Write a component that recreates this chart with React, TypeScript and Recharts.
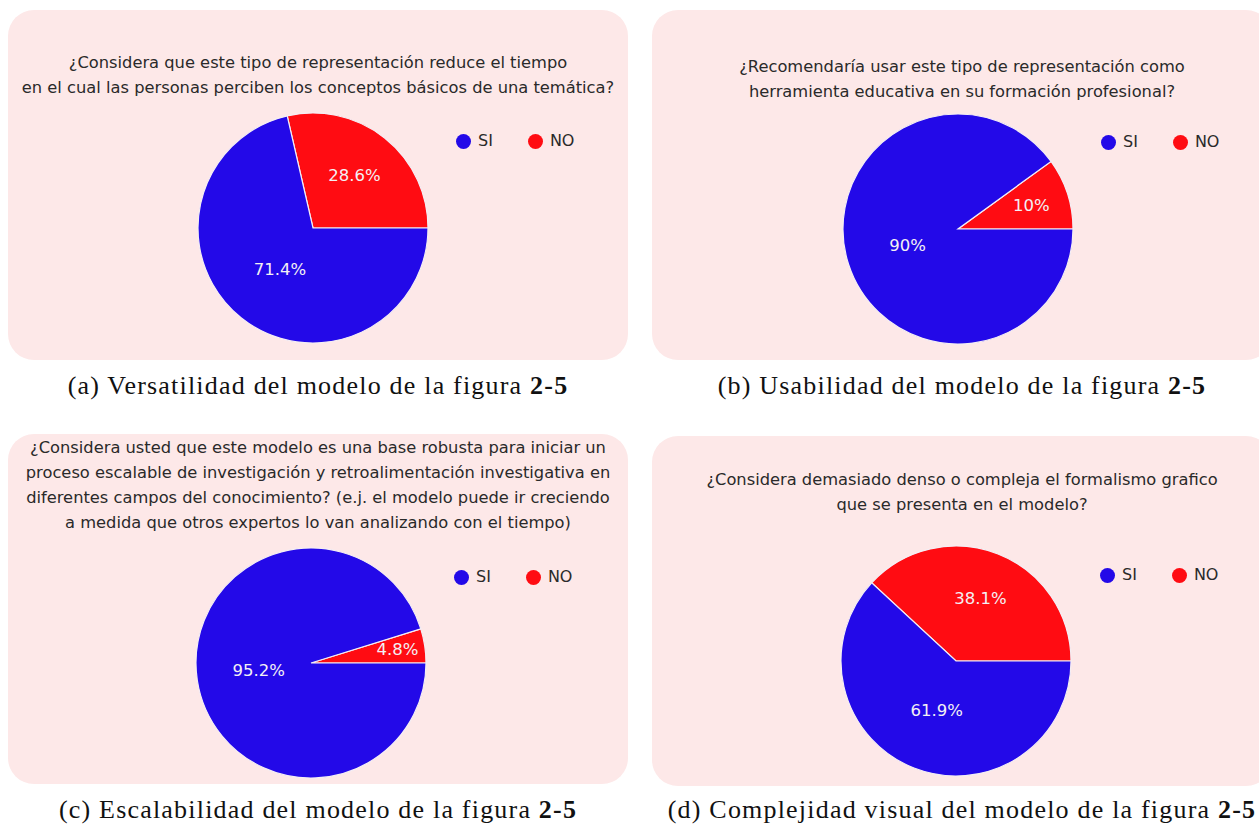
import { PieChart, Pie, Cell, Legend } from 'recharts';

const categories = ['NO', 'SI'];
const legendOrder = ['SI', 'NO'];
const colors: Record<string, string> = { SI: '#2309E8', NO: '#FF0C12' };

const versatilidad = [28.6, 71.4];
const usabilidad = [10, 90];
const escalabilidad = [4.8, 95.2];
const complejidad = [38.1, 61.9];

const titles = [
  ['¿Considera que este tipo de representación reduce el tiempo', 'en el cual las personas perciben los conceptos básicos de una temática?'],
  ['¿Recomendaría usar este tipo de representación como', 'herramienta educativa en su formación profesional?'],
  [
    '¿Considera usted que este modelo es una base robusta para iniciar un',
    'proceso escalable de investigación y retroalimentación investigativa en',
    'diferentes campos del conocimiento? (e.j. el modelo puede ir creciendo',
    'a medida que otros expertos lo van analizando con el tiempo)',
  ],
  ['¿Considera demasiado denso o compleja el formalismo grafico', 'que se presenta en el modelo?'],
];

const captions = [
  ['(a) Versatilidad del modelo de la figura ', '2-5'],
  ['(b) Usabilidad del modelo de la figura ', '2-5'],
  ['(c) Escalabilidad del modelo de la figura ', '2-5'],
  ['(d) Complejidad visual del modelo de la figura ', '2-5'],
];

const series = [versatilidad, usabilidad, escalabilidad, complejidad];

// panel placement (page pixels)
const panels = [
  { left: 8, top: 10, titleTop: 40, cx: 305, cy: 218, legendTop: 121, legendLeft: 448 },
  { left: 652, top: 10, titleTop: 44, cx: 306, cy: 219, legendTop: 122, legendLeft: 449 },
  { left: 8, top: 434, titleTop: 1, cx: 303, cy: 229, legendTop: 133, legendLeft: 446 },
  { left: 652, top: 436, titleTop: 31, cx: 304, cy: 225, legendTop: 129, legendLeft: 448 },
];
const captionTops = [371, 371, 795, 795];

const W = 620;
const H = 350;
const R = 115;
const SANS = '"DejaVu Sans", Verdana, sans-serif';

const fmtPct = (p: number) => {
  const v = Math.round(p * 1000) / 10;
  return `${Number.isInteger(v) ? v.toFixed(0) : v.toFixed(1)}%`;
};

const RAD = Math.PI / 180;
function SliceLabel(props: any) {
  const { cx, cy, midAngle, outerRadius, percent } = props;
  const f = percent < 0.08 ? 0.76 : percent < 0.2 ? 0.67 : percent < 0.5 ? 0.58 : 0.46;
  const r = outerRadius * f;
  const x = cx + r * Math.cos(-midAngle * RAD);
  const y = cy + r * Math.sin(-midAngle * RAD);
  return (
    <text x={x} y={y} fill="#F4F0F4" fontSize={16.5} fontFamily={SANS} textAnchor="middle" dominantBaseline="central">
      {fmtPct(percent)}
    </text>
  );
}

function LegendBox() {
  return (
    <div style={{ display: 'flex', fontFamily: SANS, fontSize: 16, lineHeight: '20px', color: '#2a2a2a' }}>
      {legendOrder.map((k) => (
        <div key={k} style={{ display: 'flex', alignItems: 'center', marginRight: 35 }}>
          <span style={{ width: 15, height: 15, borderRadius: '50%', background: colors[k], marginRight: 7, display: 'inline-block' }} />
          <span>{k}</span>
        </div>
      ))}
    </div>
  );
}

function Panel({ idx }: { idx: number }) {
  const p = panels[idx];
  const data = categories.map((name, i) => ({ name, value: series[idx][i] }));
  return (
    <div style={{ position: 'absolute', left: p.left, top: p.top, width: W, height: H, background: '#FDE8E8', borderRadius: 26 }}>
      <div style={{ position: 'absolute', left: 0, top: p.titleTop, width: W, textAlign: 'center', fontFamily: SANS, fontSize: 16.3, lineHeight: '25px', color: '#2a2a2a' }}>
        {titles[idx].map((t, i) => (
          <div key={i} style={{ whiteSpace: 'nowrap' }}>{t}</div>
        ))}
      </div>
      <div style={{ position: 'absolute', left: 0, top: 0 }}>
        <PieChart width={W} height={H} margin={{ top: 0, right: 0, bottom: 0, left: 0 }}>
          <Pie
            data={data}
            dataKey="value"
            nameKey="name"
            cx={p.cx}
            cy={p.cy}
            outerRadius={R}
            startAngle={0}
            endAngle={360}
            stroke="#F4EEF4"
            strokeWidth={1.2}
            label={SliceLabel}
            labelLine={false}
            isAnimationActive={false}
          >
            {data.map((d) => (
              <Cell key={d.name} fill={colors[d.name]} />
            ))}
          </Pie>
          <Legend content={() => <LegendBox />} wrapperStyle={{ top: p.legendTop, left: p.legendLeft, width: 'auto' }} />
        </PieChart>
      </div>
    </div>
  );
}

export default function App() {
  return (
    <div style={{ position: 'fixed', left: 0, top: 0, width: 1259, height: 824, background: '#fff', overflow: 'hidden' }}>
      {panels.map((_, i) => (
        <Panel key={i} idx={i} />
      ))}
      {captions.map((c, i) => (
        <div
          key={i}
          style={{
            position: 'absolute',
            left: panels[i].left,
            top: captionTops[i],
            width: W,
            textAlign: 'center',
            fontFamily: '"Liberation Serif", "Times New Roman", serif',
            fontSize: 26,
            letterSpacing: 1.2,
            lineHeight: '30px',
            color: '#111',
            whiteSpace: 'nowrap',
          }}
        >
          {c[0]}
          <b>{c[1]}</b>
        </div>
      ))}
    </div>
  );
}
